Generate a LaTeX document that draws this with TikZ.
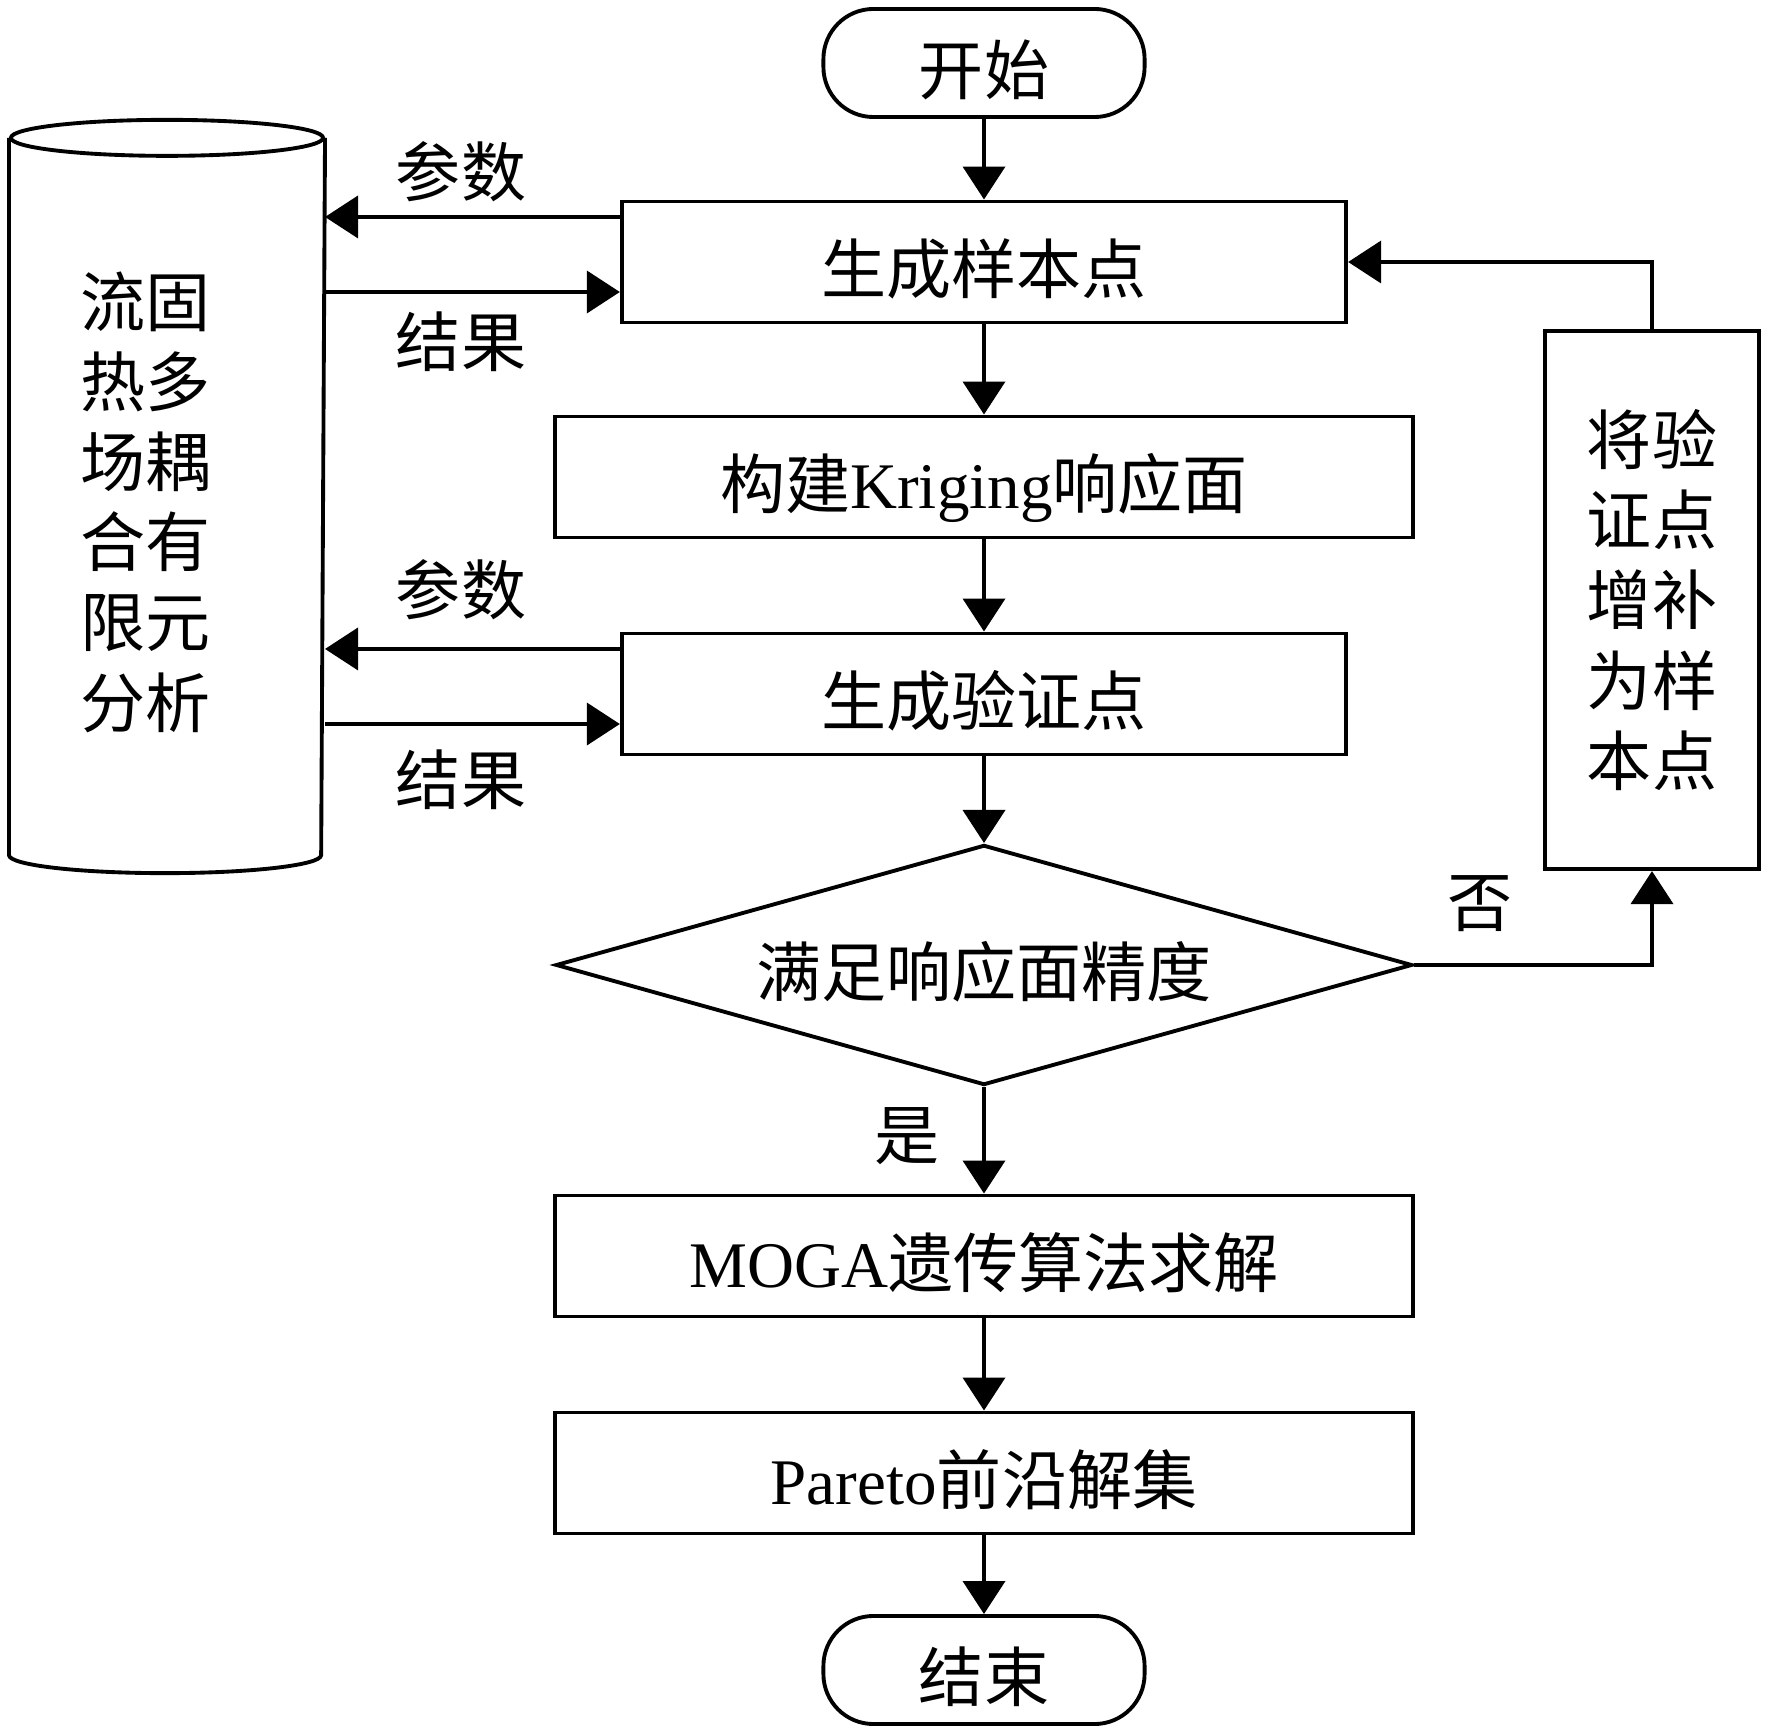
\documentclass[tikz,border=0pt]{standalone}
\usepackage{fontspec}
\setmainfont{Noto Sans CJK SC}
\newfontfamily\latinfont{Liberation Serif}
\usetikzlibrary{arrows.meta, shapes.geometric}

\begin{document}
\begin{tikzpicture}[
    x=0.01cm, y=-0.01cm,
    line width=1.1pt,
    base/.style={font=\fontsize{18.5}{22.8}\selectfont},
    onerow/.style={text height=20.3pt, text depth=2.2pt},
    proc/.style={base, rectangle, draw, minimum width=7.24cm, minimum height=1.21cm, inner sep=0pt},
    wideproc/.style={proc, onerow, minimum width=8.58cm},
    term/.style={base, onerow, rectangle, draw, rounded corners=0.5cm, minimum width=3.21cm, minimum height=1.08cm},
    decide/.style={base, onerow, diamond, draw, aspect=3.57, minimum width=8.56cm, minimum height=2.4cm, inner sep=0pt},
    lbl/.style={base, inner sep=0pt},
    arrow/.style={-{Triangle[length=0.33cm, width=0.42cm]}}
]
    \useasboundingbox (0,0) rectangle (1772,1734);

    % Main flow
    \node[term] (start) at (984,63) {开始};
    \node[proc, onerow] (sample) at (984,262) {生成样本点};
    \node[wideproc] (krig) at (984,477) {构建{\latinfont Kriging}响应面};
    \node[proc, onerow] (verify) at (984,694) {生成验证点};
    \node[decide] (check) at (984,965) {满足响应面精度};
    \node[wideproc] (moga) at (984,1256) {{\latinfont MOGA}遗传算法求解};
    \node[wideproc] (pareto) at (984,1473) {{\latinfont Pareto}前沿解集};
    \node[term] (stop) at (984,1670) {结束};

    % Feedback box
    \node[proc, minimum width=2.14cm, minimum height=5.38cm, align=center] (addpts) at (1652,600) {将验\\证点\\增补\\为样\\本点};

    % Cylinder
    \node[inner sep=0pt, minimum width=3.12cm, minimum height=7.13cm] (cyl) at (167,496.5) {};
    \draw (cyl.north west) -- (cyl.south west) arc[start angle=180, end angle=360, x radius=1.56cm, y radius=0.18cm] -- (cyl.north east);
    \draw (cyl.north) ellipse[x radius=1.56cm, y radius=0.18cm];
    \node[lbl, align=center] (fea) at (146,502) {流固\\热多\\场耦\\合有\\限元\\分析};

    % Arrows down
    \draw[arrow] (start) -- (sample);
    \draw[arrow] (sample) -- (krig);
    \draw[arrow] (krig) -- (verify);
    \draw[arrow] (verify) -- (check);
    \draw[arrow] (check) -- (moga);
    \draw[arrow] (moga) -- (pareto);
    \draw[arrow] (pareto) -- (stop);

    % Loop back
    \draw[arrow] (check.east) -| (addpts.south);
    \draw[arrow] (addpts.north) |- (sample.east);

    % Exchange with cylinder
    \draw[arrow] ([yshift=0.45cm]sample.west) coordinate (q1) -- (q1 -| cyl.east);
    \coordinate (r1) at ([yshift=-0.3cm]sample.west);
    \draw[arrow] (r1 -| cyl.east) -- (r1);
    \draw[arrow] ([yshift=0.45cm]verify.west) coordinate (q2) -- (q2 -| cyl.east);
    \coordinate (r2) at ([yshift=-0.3cm]verify.west);
    \draw[arrow] (r2 -| cyl.east) -- (r2);

    % Labels
    \node[lbl] (par1) at (461,172) {参数};
    \node[lbl] (res1) at (461,342) {结果};
    \node[lbl] (par2) at (461,590) {参数};
    \node[lbl] (res2) at (461,780) {结果};
    \node[lbl] (no) at (1480,904) {否};
    \node[lbl] (yes) at (907,1136) {是};
\end{tikzpicture}
\end{document}
